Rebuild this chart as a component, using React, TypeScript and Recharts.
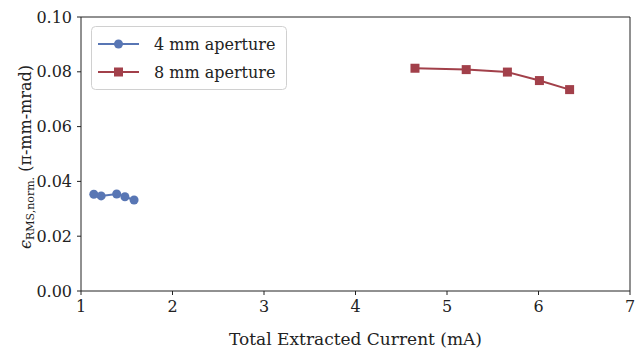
import { LineChart, Line, XAxis, YAxis, ReferenceLine } from 'recharts';

const FONT = '"DejaVu Serif", serif';
const BLUE = '#5876b4';
const RED = '#a2404a';

// 4 mm aperture
const current4mm = [1.14, 1.22, 1.39, 1.48, 1.58];
const emit4mm = [0.0353, 0.0347, 0.0354, 0.0344, 0.0332];

// 8 mm aperture
const current8mm = [4.65, 5.21, 5.66, 6.01, 6.34];
const emit8mm = [0.0813, 0.0808, 0.0799, 0.0768, 0.0735];

const xTicks = [1, 2, 3, 4, 5, 6, 7];
const yTicks = [0, 0.02, 0.04, 0.06, 0.08, 0.1];

const data4 = current4mm.map((x, i) => ({ x, y: emit4mm[i] }));
const data8 = current8mm.map((x, i) => ({ x, y: emit8mm[i] }));

const SquareDot = (props: any) => {
  const { cx, cy } = props;
  if (cx == null || cy == null) return null;
  return <rect x={cx - 4.5} y={cy - 4.5} width={9} height={9} fill={RED} />;
};

const LegendBox = () => (
  <svg width={197} height={65} style={{ position: 'absolute', left: 91, top: 26 }}>
    <rect x={0.5} y={0.5} width={195} height={63} rx={4} fill="#fff" fillOpacity={0.8} stroke="#d0d0d0" />
    <line x1={7} x2={48} y1={18} y2={18} stroke={BLUE} strokeWidth={2} />
    <circle cx={27.5} cy={18} r={4.5} fill={BLUE} />
    <text x={63} y={23.5} fontFamily={FONT} fontSize={16} fill="#222">4 mm aperture</text>
    <line x1={7} x2={48} y1={46} y2={46} stroke={RED} strokeWidth={2} />
    <rect x={23} y={41.5} width={9} height={9} fill={RED} />
    <text x={63} y={51.5} fontFamily={FONT} fontSize={16} fill="#222">8 mm aperture</text>
  </svg>
);

const YLabel = () => (
  <text
    transform="translate(31, 157) rotate(-90)"
    textAnchor="middle"
    fontFamily={FONT}
    fontSize={16}
    fill="#222"
  >
    <tspan fontStyle="italic">ϵ</tspan>
    <tspan fontSize={11} dy={3}>RMS,norm.</tspan>
    <tspan dy={-3}> (π-mm-mrad)</tspan>
  </text>
);

export default function App() {
  return (
    <div style={{ position: 'absolute', left: 0, top: 0, width: 642, height: 349, background: '#fff' }}>
      <LineChart width={642} height={349} margin={{ top: 17, right: 12, bottom: 0, left: 0 }}>
        <XAxis
          type="number"
          dataKey="x"
          domain={[1, 7]}
          ticks={xTicks}
          allowDataOverflow
          height={58}
          stroke="#222"
          tickSize={4}
          tickMargin={6}
          tick={{ fontSize: 16, fontFamily: FONT, fill: '#222' }}
          label={{ value: 'Total Extracted Current (mA)', position: 'insideBottom', offset: 4, fontSize: 17, fontFamily: FONT, fill: '#222' }}
        />
        <YAxis
          type="number"
          dataKey="y"
          domain={[0, 0.1]}
          ticks={yTicks}
          allowDataOverflow
          width={81}
          stroke="#222"
          tickSize={4}
          tickMargin={5}
          tickFormatter={(v) => v.toFixed(2)}
          tick={{ fontSize: 16, fontFamily: FONT, fill: '#222' }}
        />
        <ReferenceLine y={0.1} stroke="#222" />
        <ReferenceLine x={7} stroke="#222" />
        <Line
          data={data4}
          dataKey="y"
          name="4 mm aperture"
          stroke={BLUE}
          strokeWidth={2}
          dot={{ r: 4.5, fill: BLUE, stroke: BLUE, strokeWidth: 0 }}
          isAnimationActive={false}
        />
        <Line
          data={data8}
          dataKey="y"
          name="8 mm aperture"
          stroke={RED}
          strokeWidth={2}
          dot={<SquareDot />}
          isAnimationActive={false}
        />
        <YLabel />
      </LineChart>
      <LegendBox />
    </div>
  );
}
